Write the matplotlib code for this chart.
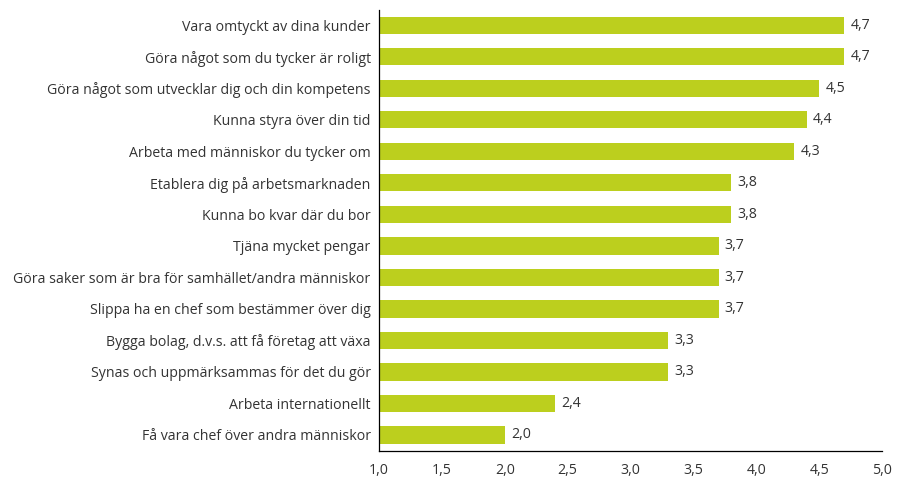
import matplotlib
matplotlib.use("Agg")
import matplotlib.pyplot as plt

categories = [
    "Vara omtyckt av dina kunder",
    "Göra något som du tycker är roligt",
    "Göra något som utvecklar dig och din kompetens",
    "Kunna styra över din tid",
    "Arbeta med människor du tycker om",
    "Etablera dig på arbetsmarknaden",
    "Kunna bo kvar där du bor",
    "Tjäna mycket pengar",
    "Göra saker som är bra för samhället/andra människor",
    "Slippa ha en chef som bestämmer över dig",
    "Bygga bolag, d.v.s. att få företag att växa",
    "Synas och uppmärksammas för det du gör",
    "Arbeta internationellt",
    "Få vara chef över andra människor",
]
values = [4.7, 4.7, 4.5, 4.4, 4.3, 3.8, 3.8, 3.7, 3.7, 3.7, 3.3, 3.3, 2.4, 2.0]
xticks = [1.0, 1.5, 2.0, 2.5, 3.0, 3.5, 4.0, 4.5, 5.0]

plt.rcParams['font.family'] = ['Open Sans', 'DejaVu Sans']
textc = "#333333"
fs = 10.2

fig = plt.figure(figsize=(8.97, 4.78), dpi=100)
ax = fig.add_axes([0.4225, 0.0573, 0.5608, 0.9227])
base = 1.0
y = list(range(len(categories)))
ax.barh(y, [v - base for v in values], left=base, height=0.55, color="#BCCF1E")
for yi, v in zip(y, values):
    ax.text(v + 0.05, yi, f"{v:.1f}".replace(".", ","), va="center", ha="left",
            fontsize=fs, color=textc)
ax.set_xlim(1.0, 5.0)
ax.set_ylim(len(categories) - 0.5, -0.5)
ax.set_yticks(y)
ax.set_yticklabels(categories, fontsize=fs, color=textc)
ax.set_xticks(xticks)
ax.set_xticklabels([f"{t:.1f}".replace(".", ",") for t in xticks], fontsize=fs, color=textc)
ax.tick_params(axis="both", length=0)
ax.tick_params(axis="y", pad=6)
ax.tick_params(axis="x", pad=9)
for s in ["top", "right"]:
    ax.spines[s].set_visible(False)
for s in ["left", "bottom"]:
    ax.spines[s].set_color("#000000")
    ax.spines[s].set_linewidth(0.9)
fig.savefig("out.png", dpi=100)
